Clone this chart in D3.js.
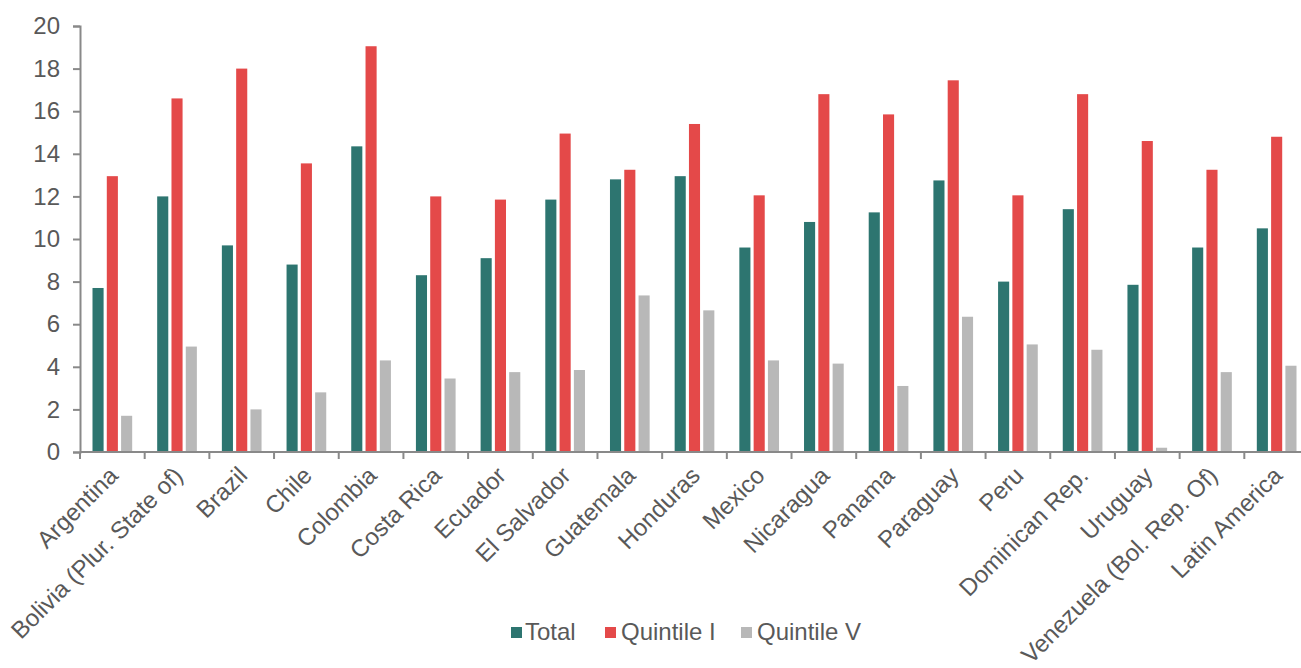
<!DOCTYPE html>
<html>
<head>
<meta charset="utf-8">
<script src="https://cdn.jsdelivr.net/npm/d3@7"></script>
<style>
  html, body { margin: 0; padding: 0; background: #fff; }
  svg { display: block; font-family: "Liberation Sans", Arial, sans-serif; }
</style>
</head>
<body>
<svg id="chart" width="1301" height="668"></svg>
<script>
const categories = ["Argentina", "Bolivia (Plur. State of)", "Brazil", "Chile", "Colombia", "Costa Rica", "Ecuador", "El Salvador", "Guatemala", "Honduras", "Mexico", "Nicaragua", "Panama", "Paraguay", "Peru", "Dominican Rep.", "Uruguay", "Venezuela (Bol. Rep. Of)", "Latin America"];
const seriesNames = ["Total", "Quintile I", "Quintile V"];
const total     = [7.7, 12.0, 9.7, 8.8, 14.35, 8.3, 9.1, 11.85, 12.8, 12.95, 9.6, 10.8, 11.25, 12.75, 8.0, 11.4, 7.85, 9.6, 10.5];
const quintile1 = [12.95, 16.6, 18.0, 13.55, 19.05, 12.0, 11.85, 14.95, 13.25, 15.4, 12.05, 16.8, 15.85, 17.45, 12.05, 16.8, 14.6, 13.25, 14.8];
const quintile5 = [1.7, 4.95, 2.0, 2.8, 4.3, 3.45, 3.75, 3.85, 7.35, 6.65, 4.3, 4.15, 3.1, 6.35, 5.05, 4.8, 0.2, 3.75, 4.05];
const yTicks = [0, 2, 4, 6, 8, 10, 12, 14, 16, 18, 20];
const colors = ["#2d7570", "#e44949", "#b8b8b8"];

const seriesValues = [total, quintile1, quintile5];
const svg = d3.select("#chart");
const textColor = "#595959";
const axisColor = "#898989";
const fontSize = 24;

const x0 = d3.scaleBand().domain(categories).range([80, 1309]).paddingInner(0).paddingOuter(0);
const x1 = d3.scaleBand().domain(seriesNames).range([12.5, x0.bandwidth() - 12.5]).paddingInner(0.224).paddingOuter(0);
const y = d3.scaleLinear().domain([0, 20]).range([452, 26]);

// bars
const groups = svg.append("g").selectAll("g")
  .data(categories)
  .join("g")
  .attr("transform", d => `translate(${x0(d)},0)`);

groups.selectAll("rect")
  .data((d, i) => seriesNames.map((s, j) => ({ s, v: seriesValues[j][i], j })))
  .join("rect")
  .attr("x", d => x1(d.s))
  .attr("width", x1.bandwidth())
  .attr("y", d => y(d.v))
  .attr("height", d => y(0) - y(d.v))
  .attr("fill", d => colors[d.j]);

// y axis
const yAxis = svg.append("g")
  .attr("transform", "translate(80,0)")
  .call(d3.axisLeft(y).tickValues(yTicks).tickSize(7).tickPadding(13).tickFormat(d3.format("d")));
yAxis.select(".domain").attr("stroke", axisColor).attr("stroke-width", 2);
yAxis.selectAll(".tick line").attr("stroke", axisColor).attr("stroke-width", 2);
yAxis.selectAll(".tick text").attr("fill", textColor).attr("font-size", fontSize).attr("font-family", "Liberation Sans, Arial, sans-serif");

// x axis: line and ticks at band edges
const xAxis = svg.append("g").attr("transform", `translate(0,${y(0)})`);
const edges = categories.map(c => x0(c)).concat([x0.range()[1]]);
xAxis.append("line")
  .attr("x1", x0.range()[0]).attr("x2", x0.range()[1])
  .attr("y1", 0).attr("y2", 0)
  .attr("stroke", axisColor).attr("stroke-width", 2);
xAxis.selectAll(".edge")
  .data(edges)
  .join("line")
  .attr("class", "edge")
  .attr("x1", d => d).attr("x2", d => d)
  .attr("y1", 0).attr("y2", 7)
  .attr("stroke", axisColor).attr("stroke-width", 2);

// rotated category labels
svg.append("g").selectAll("text")
  .data(categories)
  .join("text")
  .attr("transform", d => `translate(${x0(d) + x0.bandwidth() / 2 - 5},465) rotate(-45)`)
  .attr("text-anchor", "end")
  .attr("dy", "0.71em")
  .attr("fill", textColor)
  .attr("font-size", fontSize)
  .text(d => d);

// legend
const legendItems = [
  { name: seriesNames[0], sx: 511, tx: 525 },
  { name: seriesNames[1], sx: 605, tx: 621 },
  { name: seriesNames[2], sx: 741, tx: 757 }
];
const legend = svg.append("g");
legend.selectAll("rect")
  .data(legendItems)
  .join("rect")
  .attr("x", d => d.sx).attr("y", 627)
  .attr("width", 11).attr("height", 11)
  .attr("fill", (d, i) => colors[i]);
legend.selectAll("text")
  .data(legendItems)
  .join("text")
  .attr("x", d => d.tx).attr("y", 640)
  .attr("fill", textColor)
  .attr("font-size", fontSize)
  .text(d => d.name);
</script>
</body>
</html>
